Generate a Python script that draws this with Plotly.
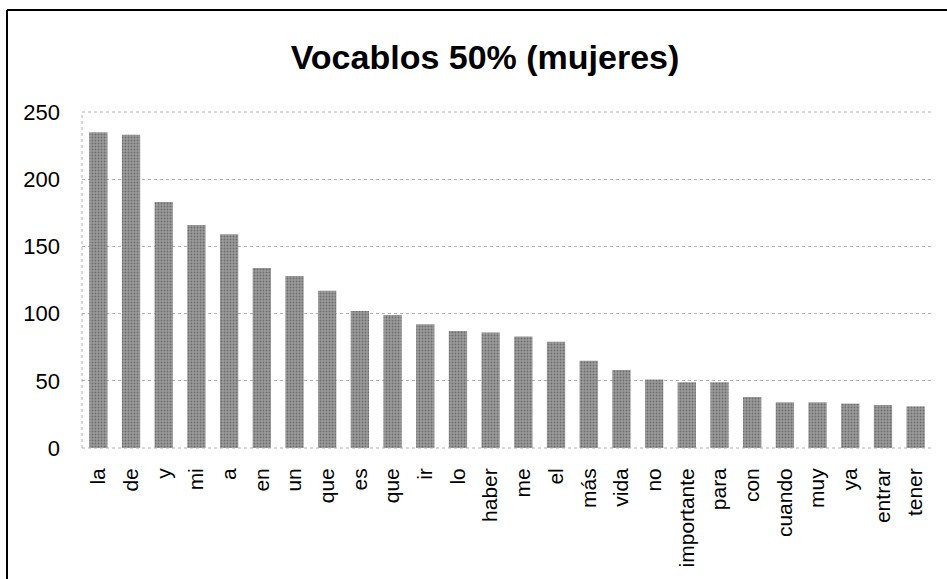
import plotly.graph_objects as go

words = ["la", "de", "y", "mi", "a", "en", "un", "que", "es", "que", "ir", "lo",
         "haber", "me", "el", "más", "vida", "no", "importante", "para", "con",
         "cuando", "muy", "ya", "entrar", "tener"]
counts = [235, 233, 183, 166, 159, 134, 128, 117, 102, 99, 92, 87,
          86, 83, 79, 65, 58, 51, 49, 49, 38, 34, 34, 33, 32, 31]
y_ticks = [0, 50, 100, 150, 200, 250]
title = "Vocablos 50% (mujeres)"

W, H = 947, 579
L, R, T, B = 82, 15, 112, 131
pw, ph = W - L - R, H - T - B
FONT = "Liberation Sans, Arial, sans-serif"

def px_x(p):
    return (p - L) / pw

def px_y(p):
    return (H - B - p) / ph

fig = go.Figure(go.Bar(
    x=list(range(len(words))), y=counts,
    marker=dict(color="#9c9c9c", line=dict(width=0),
                pattern=dict(shape=".", fgcolor="#3c3c3c", size=3, solidity=0.3)),
    width=0.56,
))

fig.update_layout(
    width=W, height=H,
    margin=dict(l=L, r=R, t=T, b=B, autoexpand=False),
    paper_bgcolor="white", plot_bgcolor="white",
    showlegend=False,
    font=dict(family=FONT, color="black"),
    title=dict(text="<b>" + title + "</b>", x=485 / W, xanchor="center",
               y=1 - 57 / H, yanchor="middle",
               font=dict(size=34, family=FONT, color="black")),
    xaxis=dict(tickmode="array", tickvals=list(range(len(words))), ticktext=words,
               tickangle=-90, tickfont=dict(size=21), range=[-0.5, len(words) - 0.5],
               showgrid=False, zeroline=False, showline=False, ticks="",
               ticklabelstandoff=15, automargin=False),
    yaxis=dict(range=[0, 250], tickvals=y_ticks, tickfont=dict(size=22),
               showgrid=True, gridcolor="#b0b0b0", griddash="dot", gridwidth=1,
               zeroline=False, showline=False, ticks="", ticklabelstandoff=21,
               automargin=False),
    shapes=[
        dict(type="line", xref="paper", yref="paper", x0=0, x1=0, y0=0, y1=1,
             line=dict(color="#b0b0b0", width=1, dash="dot")),
        dict(type="line", xref="paper", yref="paper", x0=0, x1=1, y0=0, y1=0,
             line=dict(color="#b0b0b0", width=1, dash="dot")),
        dict(type="line", xref="paper", yref="paper", x0=0, x1=1, y0=1, y1=1,
             line=dict(color="#b0b0b0", width=1, dash="dot")),
        dict(type="line", xref="paper", yref="paper", x0=px_x(7), x1=px_x(7),
             y0=px_y(579), y1=px_y(10), line=dict(color="black", width=2)),
        dict(type="line", xref="paper", yref="paper", x0=px_x(7), x1=px_x(947),
             y0=px_y(10), y1=px_y(10), line=dict(color="black", width=2)),
    ],
)

fig.write_html("out.html", config={"displayModeBar": False},
               post_script="document.body.style.margin='0';")
